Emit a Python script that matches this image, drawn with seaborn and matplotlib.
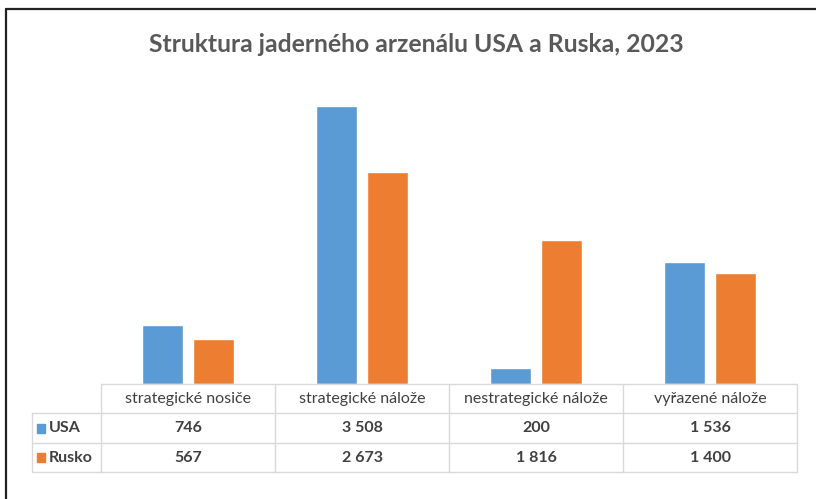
import matplotlib
matplotlib.use("Agg")
import matplotlib.pyplot as plt
import seaborn as sns
import pandas as pd
from matplotlib.lines import Line2D
from matplotlib.patches import Rectangle

categories = ["strategické nosiče", "strategické nálože", "nestrategické nálože", "vyřazené nálože"]
series_names = ["USA", "Rusko"]
usa_values = [746, 3508, 200, 1536]
rusko_values = [567, 2673, 1816, 1400]
colors = ["#5B9BD5", "#ED7D31"]
title = "Struktura jaderného arzenálu USA a Ruska, 2023"

sns.set_style("white")
plt.rcParams["font.family"] = ["Lato", "DejaVu Sans"]

df = pd.DataFrame({
    "kategorie": categories * 2,
    "série": [series_names[0]] * 4 + [series_names[1]] * 4,
    "hodnota": usa_values + rusko_values,
})

W, H = 816, 499
fig = plt.figure(figsize=(W / 100, H / 100), dpi=100)

def fx(px):
    return px / W

def fy(py):
    return 1 - py / H

x0, x1 = 101, 797
y_base, y_top = 384, 67
ax = fig.add_axes([fx(x0), fy(y_base), fx(x1) - fx(x0), fy(y_top) - fy(y_base)])
sns.barplot(data=df, x="kategorie", y="hodnota", hue="série", palette=colors,
            width=0.58, gap=0.19, ax=ax, legend=False, saturation=1)
ax.set_ylim(0, 4000)
ax.set_xlim(-0.5, 3.5)
ax.set_axis_off()

# Title
fig.text(fx(416), fy(45), title, ha="center", va="center", fontsize=17.8,
         fontweight="bold", color="#595959")

# Frame lines (top, left)
fig.add_artist(Line2D([fx(6), 1], [fy(9), fy(9)], color="#222222", lw=1.6))
fig.add_artist(Line2D([fx(6), fx(6)], [fy(9), 0], color="#222222", lw=1.6))

# Data table
grid_c = "#D9D9D9"
txt_c = "#404040"
col_w = (x1 - x0) / 4
rows_y = [384, 413, 443, 472]
lab_x0 = 32

def hline(xa, xb, y):
    fig.add_artist(Line2D([fx(xa), fx(xb)], [fy(y), fy(y)], color=grid_c, lw=1.0))

def vline(x, ya, yb):
    fig.add_artist(Line2D([fx(x), fx(x)], [fy(ya), fy(yb)], color=grid_c, lw=1.0))

hline(x0, x1, rows_y[0])
for y in rows_y[1:]:
    hline(lab_x0, x1, y)
for i in range(5):
    vline(x0 + i * col_w, rows_y[0], rows_y[3])
vline(lab_x0, rows_y[1], rows_y[3])

for i, cat in enumerate(categories):
    cx = x0 + (i + 0.5) * col_w
    fig.text(fx(cx), fy((rows_y[0] + rows_y[1]) / 2), cat, ha="center", va="center",
             fontsize=11.5, color=txt_c)

def fmt(v):
    return f"{v:,}".replace(",", " ")

for r, (name, vals) in enumerate(zip(series_names, [usa_values, rusko_values])):
    yc = (rows_y[r + 1] + rows_y[r + 2]) / 2
    fig.add_artist(Rectangle((fx(37), fy(yc + 4.5)), fx(8), 9 / H,
                             color=colors[r], transform=fig.transFigure))
    fig.text(fx(49), fy(yc), name, ha="left", va="center", fontsize=11.5,
             fontweight="bold", color=txt_c)
    for i, v in enumerate(vals):
        cx = x0 + (i + 0.5) * col_w
        fig.text(fx(cx), fy(yc), fmt(v), ha="center", va="center", fontsize=11.5,
                 fontweight="bold", color=txt_c)

fig.savefig("out.png", dpi=100, facecolor="white")
